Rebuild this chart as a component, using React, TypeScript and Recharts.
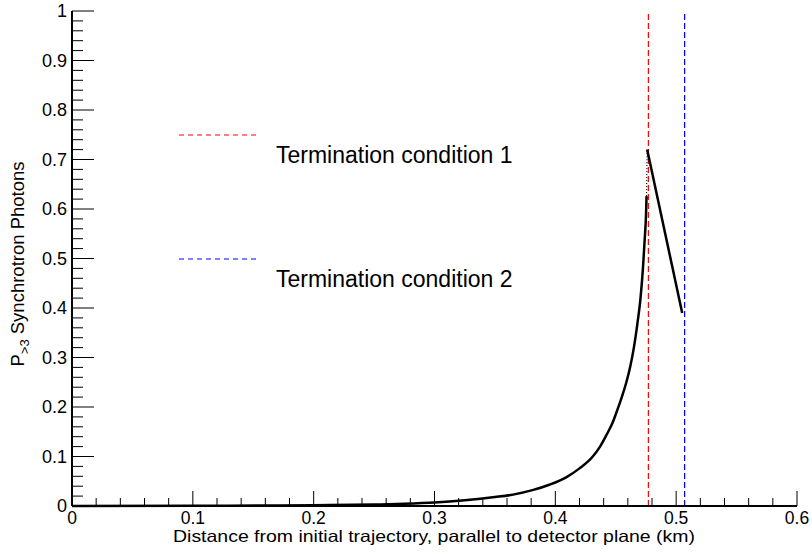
import React from 'react';
import { LineChart, Line, XAxis, YAxis, ReferenceLine } from 'recharts';

// probability vs distance
const risingCurve = [
  { x: 0, p: 0 },
  { x: 0.1, p: 0.0003 },
  { x: 0.17, p: 0.001 },
  { x: 0.2, p: 0.0015 },
  { x: 0.25, p: 0.003 },
  { x: 0.275, p: 0.0045 },
  { x: 0.3, p: 0.007 },
  { x: 0.325, p: 0.0115 },
  { x: 0.35, p: 0.018 },
  { x: 0.365, p: 0.023 },
  { x: 0.381, p: 0.032 },
  { x: 0.395, p: 0.043 },
  { x: 0.409, p: 0.058 },
  { x: 0.42, p: 0.076 },
  { x: 0.431, p: 0.1 },
  { x: 0.437, p: 0.12 },
  { x: 0.442, p: 0.142 },
  { x: 0.447, p: 0.166 },
  { x: 0.451, p: 0.192 },
  { x: 0.455, p: 0.22 },
  { x: 0.459, p: 0.252 },
  { x: 0.462, p: 0.282 },
  { x: 0.465, p: 0.32 },
  { x: 0.468, p: 0.37 },
  { x: 0.4705, p: 0.42 },
  { x: 0.4725, p: 0.48 },
  { x: 0.474, p: 0.54 },
  { x: 0.475, p: 0.585 },
  { x: 0.4755, p: 0.626 },
];

const jumpSegment = [
  { x: 0.4755, p: 0.626 },
  { x: 0.476, p: 0.72 },
];

const fallingSegment = [
  { x: 0.476, p: 0.72 },
  { x: 0.505, p: 0.39 },
];

const termination1 = 0.477;
const termination2 = 0.507;

const xMajor = [0, 0.1, 0.2, 0.3, 0.4, 0.5, 0.6];
const yMajor = [0, 0.1, 0.2, 0.3, 0.4, 0.5, 0.6, 0.7, 0.8, 0.9, 1];

// 5 minor divisions per major, like ROOT
const withMinor = (major: number[], parts = 5) =>
  major.flatMap((v, i) =>
    i === major.length - 1
      ? [v]
      : Array.from({ length: parts }, (_, k) => +(v + ((major[i + 1] - v) * k) / parts).toFixed(4))
  );

const xTicks = withMinor(xMajor);
const yTicks = withMinor(yMajor);

const FONT = '"Liberation Sans", Arial, Helvetica, sans-serif';

const isMajor = (list: number[], v: number) => list.some((m) => Math.abs(m - v) < 1e-6);

const XTick = (props: any) => {
  const { x, y, payload } = props;
  const major = isMajor(xMajor, payload.value);
  return (
    <g>
      <line x1={x} x2={x} y1={y} y2={y - (major ? 15 : 8)} stroke="#000" strokeWidth={1} />
      {major && (
        <text x={x} y={y + 18} textAnchor="middle" fontSize={17.5} fontFamily={FONT} fill="#000">
          {String(payload.value)}
        </text>
      )}
    </g>
  );
};

const YTick = (props: any) => {
  const { x, y, payload } = props;
  const major = isMajor(yMajor, payload.value);
  return (
    <g>
      <line x1={x} x2={x + (major ? 22 : 11)} y1={y} y2={y} stroke="#000" strokeWidth={1} />
      {major && (
        <text x={x - 5} y={y} dy="0.35em" textAnchor="end" fontSize={18} fontFamily={FONT} fill="#000">
          {String(payload.value)}
        </text>
      )}
    </g>
  );
};

export default function App() {
  return (
    <div style={{ position: 'absolute', left: 0, top: 0, width: 812, height: 554, background: '#fff', fontFamily: FONT }}>
      <LineChart width={812} height={554} margin={{ top: 11, right: 15, bottom: 0, left: 0 }}>
        <XAxis
          dataKey="x"
          type="number"
          domain={[0, 0.6]}
          ticks={xTicks}
          interval={0}
          tick={<XTick />}
          tickLine={false}
          tickSize={0}
          tickMargin={0}
          height={48}
          axisLine={{ stroke: '#000', strokeWidth: 2 }}
          label={{
            content: () => (
              <text
                x={434}
                y={542}
                textAnchor="middle"
                fontSize={16.5}
                textLength={522}
                lengthAdjust="spacingAndGlyphs"
                fontFamily={FONT}
                fill="#000"
              >
                Distance from initial trajectory, parallel to detector plane (km)
              </text>
            ),
          }}
        />
        <XAxis
          xAxisId="top"
          orientation="top"
          type="number"
          domain={[0, 0.6]}
          tick={false}
          tickLine={false}
          height={0}
          axisLine={{ stroke: '#000', strokeWidth: 2 }}
        />
        <YAxis
          type="number"
          domain={[0, 1]}
          ticks={yTicks}
          interval={0}
          tick={<YTick />}
          tickLine={false}
          tickSize={0}
          tickMargin={0}
          width={72}
          axisLine={{ stroke: '#000', strokeWidth: 2 }}
          label={{
            content: () => (
              <text transform="translate(24,264) rotate(-90)" textAnchor="middle" fontSize={18.5} fontFamily={FONT} fill="#000">
                <tspan>P</tspan>
                <tspan fontSize={13} dy={5}>&gt;3</tspan>
                <tspan dy={-5}> Synchrotron Photons</tspan>
              </text>
            ),
          }}
        />
        <YAxis
          yAxisId="right"
          orientation="right"
          type="number"
          domain={[0, 1]}
          tick={false}
          tickLine={false}
          width={0}
          axisLine={{ stroke: '#000', strokeWidth: 2 }}
        />
        <ReferenceLine x={termination1} stroke="#ff0000" strokeDasharray="6 3" strokeWidth={1.2} />
        <ReferenceLine x={termination2} stroke="#0000ff" strokeDasharray="6 3" strokeWidth={1.2} />
        <Line data={risingCurve} dataKey="p" type="monotone" stroke="#000" strokeWidth={2.5} dot={false} isAnimationActive={false} />
        <Line data={jumpSegment} dataKey="p" type="linear" stroke="#000" strokeWidth={1.2} strokeDasharray="1 2" dot={false} isAnimationActive={false} />
        <Line data={fallingSegment} dataKey="p" type="linear" stroke="#000" strokeWidth={2.5} dot={false} isAnimationActive={false} />
      </LineChart>
      <svg width={812} height={554} style={{ position: 'absolute', left: 0, top: 0, pointerEvents: 'none' }}>
        <line x1={179} x2={259} y1={135} y2={135} stroke="#ff0000" strokeDasharray="5 4" strokeWidth={1.2} />
        <text x={276} y={163} fontSize={23} fontFamily={FONT} fill="#000">Termination condition 1</text>
        <line x1={179} x2={259} y1={259} y2={259} stroke="#0000ff" strokeDasharray="5 4" strokeWidth={1.2} />
        <text x={276} y={287} fontSize={23} fontFamily={FONT} fill="#000">Termination condition 2</text>
      </svg>
    </div>
  );
}
